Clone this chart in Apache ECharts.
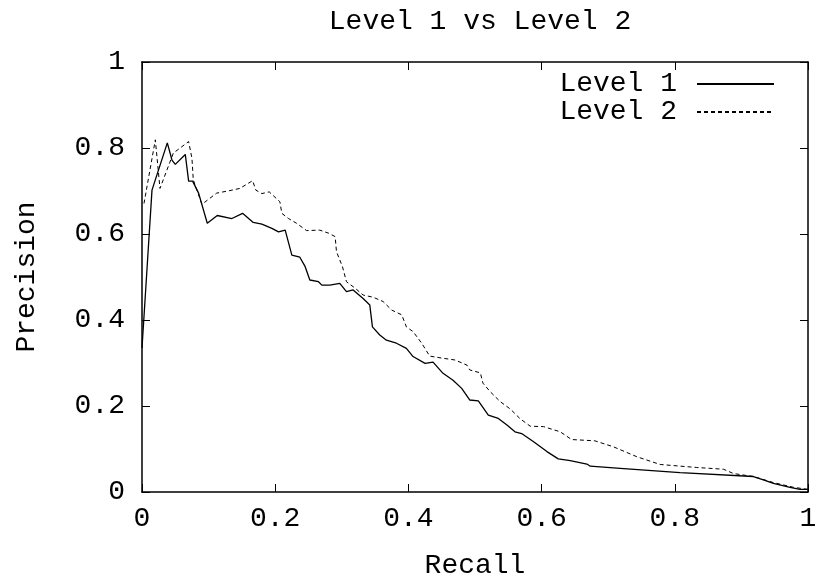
<!DOCTYPE html>
<html>
<head>
<meta charset="utf-8">
<script src="https://cdn.jsdelivr.net/npm/echarts@6/dist/echarts.min.js"></script>
<style>
    html, body { margin: 0; padding: 0; background: #fff; }
    #chart { width: 829px; height: 581px; }
</style>
</head>
<body>
<div id="chart"></div>
<script>
// precision / recall readings
var level1Recall = [0, 0.015, 0.038, 0.045, 0.050, 0.065, 0.070, 0.076, 0.085, 0.098, 0.113, 0.135, 0.151, 0.167, 0.180, 0.195, 0.205, 0.215, 0.218, 0.225, 0.237, 0.245, 0.252, 0.265, 0.270, 0.282, 0.297, 0.307, 0.317, 0.332, 0.342, 0.346, 0.357, 0.367, 0.382, 0.397, 0.407, 0.425, 0.437, 0.452, 0.467, 0.480, 0.492, 0.505, 0.520, 0.535, 0.548, 0.560, 0.570, 0.588, 0.608, 0.625, 0.643, 0.668, 0.673, 0.718, 0.808, 0.918, 0.933, 0.948, 0.973, 0.988, 1.0]
var level1Precision = [0.335, 0.702, 0.812, 0.772, 0.762, 0.785, 0.723, 0.723, 0.695, 0.625, 0.643, 0.636, 0.648, 0.627, 0.623, 0.613, 0.605, 0.609, 0.605, 0.551, 0.546, 0.524, 0.493, 0.489, 0.481, 0.481, 0.485, 0.466, 0.470, 0.450, 0.435, 0.384, 0.365, 0.353, 0.346, 0.334, 0.315, 0.299, 0.302, 0.276, 0.260, 0.241, 0.214, 0.212, 0.179, 0.171, 0.156, 0.140, 0.136, 0.117, 0.094, 0.077, 0.073, 0.065, 0.060, 0.055, 0.045, 0.036, 0.028, 0.020, 0.011, 0.006, 0.006]

var level2Recall = [0.003, 0.020, 0.027, 0.047, 0.070, 0.075, 0.077, 0.090, 0.112, 0.132, 0.147, 0.166, 0.171, 0.180, 0.191, 0.207, 0.210, 0.220, 0.232, 0.247, 0.267, 0.280, 0.290, 0.292, 0.301, 0.307, 0.320, 0.332, 0.347, 0.362, 0.375, 0.390, 0.397, 0.407, 0.420, 0.432, 0.452, 0.470, 0.488, 0.492, 0.508, 0.512, 0.523, 0.538, 0.553, 0.568, 0.583, 0.603, 0.628, 0.645, 0.680, 0.708, 0.743, 0.778, 0.833, 0.873, 0.888, 0.918, 0.948, 0.978, 1.0]
var level2Precision = [0.671, 0.819, 0.706, 0.788, 0.815, 0.776, 0.726, 0.669, 0.695, 0.701, 0.706, 0.724, 0.702, 0.694, 0.698, 0.675, 0.648, 0.636, 0.625, 0.608, 0.609, 0.602, 0.594, 0.559, 0.524, 0.489, 0.474, 0.458, 0.453, 0.443, 0.423, 0.412, 0.384, 0.373, 0.346, 0.316, 0.311, 0.307, 0.295, 0.284, 0.277, 0.253, 0.233, 0.210, 0.193, 0.170, 0.153, 0.152, 0.140, 0.122, 0.119, 0.105, 0.082, 0.064, 0.057, 0.053, 0.043, 0.036, 0.022, 0.011, 0.006]

var seriesNames = ['Level 1', 'Level 2']

function pairs(xs, ys) {
    return xs.map(function (x, i) { return [x, ys[i]] })
}

var font = 'Liberation Mono'
var fs = 28
var axisColor = '#000'

var chart = echarts.init(document.getElementById('chart'))

// shared look for the boxed gnuplot-style axes
function boxAxis(extra) {
    var base = {
        type: 'value',
        min: 0,
        max: 1,
        interval: 0.2,
        axisLine: { show: true, onZero: false, lineStyle: { color: axisColor, width: 1.5 } },
        axisTick: { show: true, inside: true, length: 8, lineStyle: { color: axisColor, width: 1 } },
        splitLine: { show: false },
        axisLabel: { show: false }
    }
    return Object.assign(base, extra)
}

chart.setOption({
    backgroundColor: '#fff',
    animation: false,
    title: {
        text: 'Level 1 vs Level 2',
        left: 475,
        top: 3,
        textAlign: 'center',
        textStyle: { fontFamily: font, fontSize: fs, fontWeight: 'normal', color: '#000' }
    },
    legend: {
        data: seriesNames,
        orient: 'vertical',
        right: 54,
        top: 70,
        padding: 0,
        align: 'right',
        itemWidth: 77,
        itemHeight: 14,
        itemGap: 0,
        itemStyle: { opacity: 0 },
        textStyle: { fontFamily: font, fontSize: fs, color: '#000', padding: [0, 15, 0, 0] }
    },
    grid: {
        left: 142,
        right: 21,
        top: 62,
        bottom: 89,
        containLabel: false,
        outerBoundsMode: 'none'
    },
    xAxis: [
        boxAxis({
            position: 'bottom',
            name: 'Recall',
            nameLocation: 'middle',
            nameGap: 60,
            nameTextStyle: { fontFamily: font, fontSize: fs, color: '#000' },
            axisLabel: { show: true, margin: 13, fontFamily: font, fontSize: fs, color: '#000' }
        }),
        boxAxis({ position: 'top' })
    ],
    yAxis: [
        boxAxis({
            position: 'left',
            name: 'Precision',
            nameLocation: 'middle',
            nameGap: 101,
            nameRotate: 90,
            nameTextStyle: { fontFamily: font, fontSize: fs, color: '#000' },
            axisLabel: { show: true, margin: 17, fontFamily: font, fontSize: fs, color: '#000' }
        }),
        boxAxis({ position: 'right' })
    ],
    series: [
        {
            name: 'Level 1',
            type: 'line',
            symbol: 'none',
            smooth: false,
            lineStyle: { color: '#000', width: 1.3, type: 'solid' },
            itemStyle: { color: '#000' },
            data: pairs(level1Recall, level1Precision)
        },
        {
            name: 'Level 2',
            type: 'line',
            symbol: 'none',
            smooth: false,
            lineStyle: { color: '#000', width: 1, type: [4, 3] },
            itemStyle: { color: '#000' },
            data: pairs(level2Recall, level2Precision)
        }
    ]
})
</script>
</body>
</html>
